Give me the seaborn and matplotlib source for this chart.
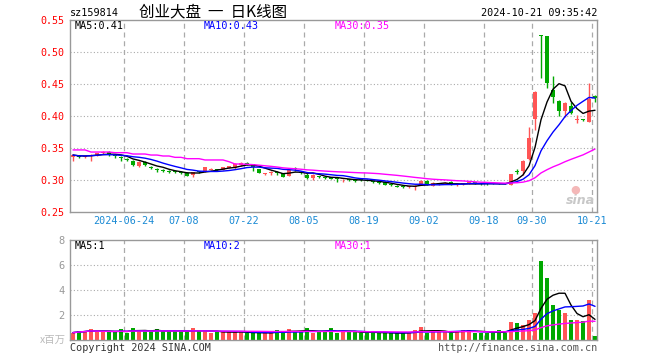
import numpy as np
import pandas as pd
import matplotlib
matplotlib.use("Agg")
import matplotlib.pyplot as plt
import seaborn as sns

# ---------------- data ----------------
dates = (
    ["06-11", "06-12", "06-13", "06-14", "06-17", "06-18", "06-19", "06-20", "06-21",
     "06-24", "06-25", "06-26", "06-27", "06-28"]
    + ["07-01", "07-02", "07-03", "07-04", "07-05", "07-08", "07-09", "07-10", "07-11",
       "07-12", "07-15", "07-16", "07-17", "07-18", "07-19", "07-22", "07-23", "07-24",
       "07-25", "07-26", "07-29", "07-30", "07-31"]
    + ["08-01", "08-02", "08-05", "08-06", "08-07", "08-08", "08-09", "08-12", "08-13",
       "08-14", "08-15", "08-16", "08-19", "08-20", "08-21", "08-22", "08-23", "08-26",
       "08-27", "08-28", "08-29", "08-30"]
    + ["09-02", "09-03", "09-04", "09-05", "09-06", "09-09", "09-10", "09-11", "09-12",
       "09-13", "09-18", "09-19", "09-20", "09-23", "09-24", "09-25", "09-26", "09-27",
       "09-30"]
    + ["10-08", "10-09", "10-10", "10-11", "10-14", "10-15", "10-16", "10-17", "10-18",
       "10-21"]
)

opens = [0.3365, 0.3372, 0.3365, 0.3378, 0.3391, 0.3417, 0.3438, 0.3380, 0.3360, 0.3320,
         0.3300, 0.3220, 0.3280, 0.3208, 0.3165, 0.3145, 0.3135, 0.3128, 0.3122, 0.3110,
         0.3078, 0.3135, 0.3130, 0.3160, 0.3165, 0.3160, 0.3195, 0.3182, 0.3234, 0.3255,
         0.3250, 0.3167, 0.3090, 0.3110, 0.3120, 0.3104, 0.3063, 0.3185, 0.3120, 0.3078,
         0.3026, 0.3055, 0.3045, 0.3040, 0.3015, 0.3008, 0.3003, 0.2995, 0.3003, 0.2995,
         0.2975, 0.2962, 0.2974, 0.2930, 0.2905, 0.2900, 0.2890, 0.2885, 0.2922, 0.2990,
         0.2906, 0.2935, 0.2938, 0.2974, 0.2918, 0.2932, 0.2952, 0.2952, 0.2942, 0.2942,
         0.2950, 0.2948, 0.2944, 0.2922, 0.3135, 0.3146, 0.3323, 0.3953, 0.5260, 0.5250,
         0.4406, 0.4240, 0.4083, 0.4156, 0.3930, 0.3948, 0.3911, 0.4312]
highs = [0.3410, 0.3390, 0.3380, 0.3400, 0.3425, 0.3450, 0.3450, 0.3395, 0.3370, 0.3340,
         0.3310, 0.3290, 0.3290, 0.3220, 0.3180, 0.3170, 0.3150, 0.3140, 0.3135, 0.3120,
         0.3130, 0.3145, 0.3210, 0.3180, 0.3170, 0.3210, 0.3225, 0.3260, 0.3280, 0.3280,
         0.3255, 0.3175, 0.3105, 0.3146, 0.3146, 0.3110, 0.3160, 0.3210, 0.3140, 0.3104,
         0.3094, 0.3070, 0.3060, 0.3052, 0.3030, 0.3020, 0.3020, 0.3010, 0.3015, 0.3010,
         0.2990, 0.2975, 0.2980, 0.2940, 0.2920, 0.2915, 0.2905, 0.2920, 0.2995, 0.2995,
         0.2965, 0.2955, 0.2965, 0.2980, 0.2935, 0.2950, 0.2975, 0.2965, 0.2955, 0.2955,
         0.2965, 0.2960, 0.2955, 0.3095, 0.3170, 0.3310, 0.3833, 0.4390, 0.5260, 0.5250,
         0.4625, 0.4250, 0.4220, 0.4224, 0.4010, 0.3955, 0.4510, 0.4333]
lows = [0.3300, 0.3350, 0.3350, 0.3302, 0.3380, 0.3410, 0.3380, 0.3340, 0.3290, 0.3290,
        0.3220, 0.3210, 0.3220, 0.3170, 0.3130, 0.3120, 0.3110, 0.3105, 0.3100, 0.3055,
        0.3040, 0.3110, 0.3125, 0.3150, 0.3140, 0.3155, 0.3180, 0.3175, 0.3225, 0.3235,
        0.3146, 0.3105, 0.3085, 0.3078, 0.3078, 0.3045, 0.3055, 0.3146, 0.3100, 0.3010,
        0.3000, 0.3030, 0.3020, 0.3010, 0.2975, 0.2975, 0.2985, 0.2975, 0.2990, 0.2980,
        0.2955, 0.2945, 0.2915, 0.2905, 0.2885, 0.2880, 0.2880, 0.2844, 0.2915, 0.2915,
        0.2900, 0.2925, 0.2930, 0.2915, 0.2905, 0.2925, 0.2945, 0.2935, 0.2925, 0.2925,
        0.2935, 0.2930, 0.2930, 0.2915, 0.3100, 0.3078, 0.3310, 0.3781, 0.4590, 0.4430,
        0.4198, 0.4000, 0.3980, 0.4031, 0.3896, 0.3925, 0.3900, 0.4224]
closes = [0.3390, 0.3365, 0.3372, 0.3391, 0.3417, 0.3443, 0.3391, 0.3370, 0.3340, 0.3310,
          0.3234, 0.3280, 0.3234, 0.3190, 0.3155, 0.3135, 0.3125, 0.3120, 0.3112, 0.3070,
          0.3120, 0.3125, 0.3200, 0.3168, 0.3155, 0.3200, 0.3210, 0.3250, 0.3270, 0.3245,
          0.3198, 0.3115, 0.3098, 0.3118, 0.3112, 0.3052, 0.3156, 0.3178, 0.3112, 0.3026,
          0.3078, 0.3048, 0.3038, 0.3022, 0.3008, 0.3014, 0.2996, 0.2988, 0.2996, 0.2988,
          0.2968, 0.2955, 0.2922, 0.2918, 0.2896, 0.2893, 0.2898, 0.2906, 0.2990, 0.2922,
          0.2958, 0.2942, 0.2958, 0.2922, 0.2925, 0.2940, 0.2958, 0.2946, 0.2936, 0.2936,
          0.2944, 0.2942, 0.2938, 0.3089, 0.3128, 0.3302, 0.3651, 0.4380, 0.5250, 0.4510,
          0.4302, 0.4083, 0.4208, 0.4042, 0.3937, 0.3932, 0.4260, 0.4276]
# MA30 values for the days before a full 30-day window exists
ma30_head = [0.347, 0.347, 0.347, 0.3437, 0.3437, 0.3437, 0.3437, 0.3427, 0.3427, 0.3427,
             0.3406, 0.3406, 0.3406, 0.339, 0.339, 0.3375, 0.3375, 0.3354, 0.3354, 0.3333,
             0.3333, 0.3333, 0.3313, 0.3313, 0.3313, 0.3313, 0.3286, 0.325, 0.325]
volumes = [0.59, 0.69, 0.75, 0.88, 0.64, 0.64, 0.64, 0.64, 0.88, 0.59,
           0.96, 0.69, 0.69, 0.69, 0.88, 0.69, 0.69, 0.69, 0.69, 0.69,
           0.96, 0.69, 0.69, 0.53, 0.69, 0.64, 0.64, 0.64, 0.64, 0.53,
           0.53, 0.59, 0.59, 0.59, 0.80, 0.59, 0.88, 0.64, 0.69, 0.96,
           0.53, 0.69, 0.69, 0.96, 0.59, 0.64, 0.64, 0.64, 0.59, 0.64,
           0.59, 0.53, 0.59, 0.53, 0.53, 0.59, 0.64, 0.80, 1.04, 0.59,
           0.64, 0.64, 0.64, 0.59, 0.75, 0.80, 0.80, 0.59, 0.53, 0.59,
           0.59, 0.80, 0.59, 1.44, 1.33, 1.20, 1.60, 2.20, 6.32, 4.99,
           2.80, 2.40, 2.19, 1.60, 1.60, 1.52, 3.20, 0.32]
tick_dates = ["06-24", "07-08", "07-22", "08-05", "08-19", "09-02", "09-18", "09-30", "10-21"]
tick_texts = ["2024-06-24", "07-08", "07-22", "08-05", "08-19", "09-02", "09-18", "09-30", "10-21"]
price_ticks = [0.25, 0.30, 0.35, 0.40, 0.45, 0.50, 0.55]
vol_ticks = [2, 4, 6, 8]

# ---------------- build frame ----------------
df = pd.DataFrame({"date": dates, "open": opens, "high": highs, "low": lows,
                   "close": closes, "vol": volumes})
df["i"] = np.arange(len(df))
df["dir"] = np.where(df["close"] >= df["open"], "up", "down")
df["ma5"] = df["close"].rolling(5, min_periods=1).mean()
df["ma10"] = df["close"].rolling(10, min_periods=1).mean()
ma30 = df["close"].rolling(30).mean().to_numpy()
ma30[:len(ma30_head)] = ma30_head
df["ma30"] = ma30
df["vma5"] = df["vol"].rolling(5, min_periods=1).mean()
df["vma10"] = df["vol"].rolling(10, min_periods=1).mean()
df["vma30"] = df["vol"].rolling(30, min_periods=1).mean()

RED = "#ff5555"
GREEN = "#00a800"
palette = {"up": RED, "down": GREEN}
GRID = "#aaaaaa"
FRAME = "#999999"
MONO = "DejaVu Sans Mono"
BAR_W = 0.8

sns.set_theme(style="white")
plt.rcParams["font.family"] = [MONO, "Noto Sans CJK SC"]

W, H = 660, 360
fig = plt.figure(figsize=(W / 100, H / 100), dpi=100)
fig.patch.set_facecolor("white")

def axrect(x0, y0, x1, y1):
    return [x0 / W, 1 - y1 / H, (x1 - x0) / W, (y1 - y0) / H]

ax1 = fig.add_axes(axrect(70, 20, 597, 212))
ax2 = fig.add_axes(axrect(70, 240, 597, 340))

n = len(df)
xlim = (-0.5, n - 0.67)
tick_pos = [dates.index(d) - 0.5 for d in tick_dates]

# ---------- price panel ----------
for yv in price_ticks[1:-1]:
    ax1.axhline(yv, color=GRID, lw=0.8, ls=(0, (1, 2)), zorder=0)
for xv in tick_pos:
    ax1.axvline(xv, color=GRID, lw=0.9, ls=(0, (4, 3)), zorder=0)

cols = df["dir"].map(palette)
ax1.vlines(df["i"], df["low"], df["high"], colors=cols, lw=1, zorder=2)
body_lo = np.minimum(df["open"], df["close"])
body_h = np.maximum((df["close"] - df["open"]).abs(), 0.0016)
ax1.bar(df["i"], body_h, bottom=body_lo, width=BAR_W, color=cols, lw=0, zorder=3)

sns.lineplot(data=df, x="i", y="ma5", color="black", lw=1, ax=ax1, zorder=4)
sns.lineplot(data=df, x="i", y="ma10", color="#0000ff", lw=1, ax=ax1, zorder=4)
sns.lineplot(data=df, x="i", y="ma30", color="#ff00ff", lw=1, ax=ax1, zorder=4)

ax1.set_xlim(*xlim)
ax1.set_ylim(0.25, 0.55)
ax1.set_yticks(price_ticks)
ax1.set_yticklabels([f"{v:.2f}" for v in price_ticks], color="#ff0000", fontsize=7.2)
ax1.set_xticks(tick_pos)
ax1.set_xticklabels(tick_texts, color="#1a8ad4", fontsize=7.3)
ax1.tick_params(axis="both", length=0)
ax1.tick_params(axis="y", pad=4)
ax1.tick_params(axis="x", pad=3)
ax1.set_xlabel("")
ax1.set_ylabel("")
for s in ax1.spines.values():
    s.set_color(FRAME)
    s.set_linewidth(1)

# ---------- volume panel ----------
for yv in vol_ticks[:-1]:
    ax2.axhline(yv, color=GRID, lw=0.8, ls=(0, (1, 2)), zorder=0)
for xv in tick_pos:
    ax2.axvline(xv, color=GRID, lw=0.9, ls=(0, (4, 3)), zorder=0)

sns.barplot(data=df, x="i", y="vol", hue="dir", palette=palette, dodge=False,
            order=list(df["i"]), width=BAR_W, saturation=1, legend=False, ax=ax2,
            zorder=2, linewidth=0)
# make every volume bar the same width as the candle bodies, centred on its day
for p in ax2.patches:
    c = p.get_x() + p.get_width() / 2
    p.set_x(round(c) - BAR_W / 2)
    p.set_width(BAR_W)

sns.lineplot(data=df, x="i", y="vma5", color="black", lw=1, ax=ax2, zorder=4)
sns.lineplot(data=df, x="i", y="vma10", color="#0000ff", lw=1, ax=ax2, zorder=4)
sns.lineplot(data=df, x="i", y="vma30", color="#ff00ff", lw=1, ax=ax2, zorder=4)

ax2.set_xlim(*xlim)
ax2.set_ylim(0, 8)
ax2.set_yticks(vol_ticks)
ax2.set_yticklabels([str(v) for v in vol_ticks], color="#999999", fontsize=7.5)
ax2.set_xticks([])
ax2.tick_params(axis="both", length=0)
ax2.tick_params(axis="y", pad=4)
ax2.set_xlabel("")
ax2.set_ylabel("")
for s in ax2.spines.values():
    s.set_color(FRAME)
    s.set_linewidth(1)

# ---------- texts ----------
def t(x, y, s, **kw):
    fig.text(x / W, 1 - y / H, s, **kw)

t(70, 13, "sz159814", fontsize=7.3, va="center", ha="left", color="black")
t(213, 12, "创业大盘  一  日K线图", fontsize=11.2, va="center", ha="center",
  color="black", family=["Noto Sans CJK SC", MONO])
t(597, 13, "2024-10-21 09:35:42", fontsize=7.3, va="center", ha="right", color="black")

last = df.iloc[-1]
t(75, 26, f"MA5:{last['ma5']:.2f}", fontsize=7.3, va="center", color="black")
t(204, 26, f"MA10:{last['ma10']:.2f}", fontsize=7.3, va="center", color="#0000ff")
t(335, 26, f"MA30:{last['ma30']:.2f}", fontsize=7.3, va="center", color="#ff00ff")

t(75, 246, f"MA5:{int(last['vma5'])}", fontsize=7.3, va="center", color="black")
t(204, 246, f"MA10:{int(last['vma10'])}", fontsize=7.3, va="center", color="#0000ff")
t(335, 246, f"MA30:{int(last['vma30'])}", fontsize=7.3, va="center", color="#ff00ff")

t(66, 340, "x百万", fontsize=7.5, va="center", ha="right", color="#bbbbbb",
  family=["Noto Sans CJK SC", MONO])
t(70, 348, "Copyright 2024 SINA.COM", fontsize=7.3, va="center", ha="left", color="#333333")
t(597, 348, "http://finance.sina.com.cn", fontsize=7.3, va="center", ha="right", color="#555555")

t(580, 200, "sina", fontsize=9, va="center", ha="center", color="#c8c8c8",
  style="italic", weight="bold", family="DejaVu Sans")
t(575, 190, "●", fontsize=8, va="center", ha="center", color="#f4b8b8",
  family="DejaVu Sans")

fig.savefig("out.png", dpi=100, facecolor="white")
